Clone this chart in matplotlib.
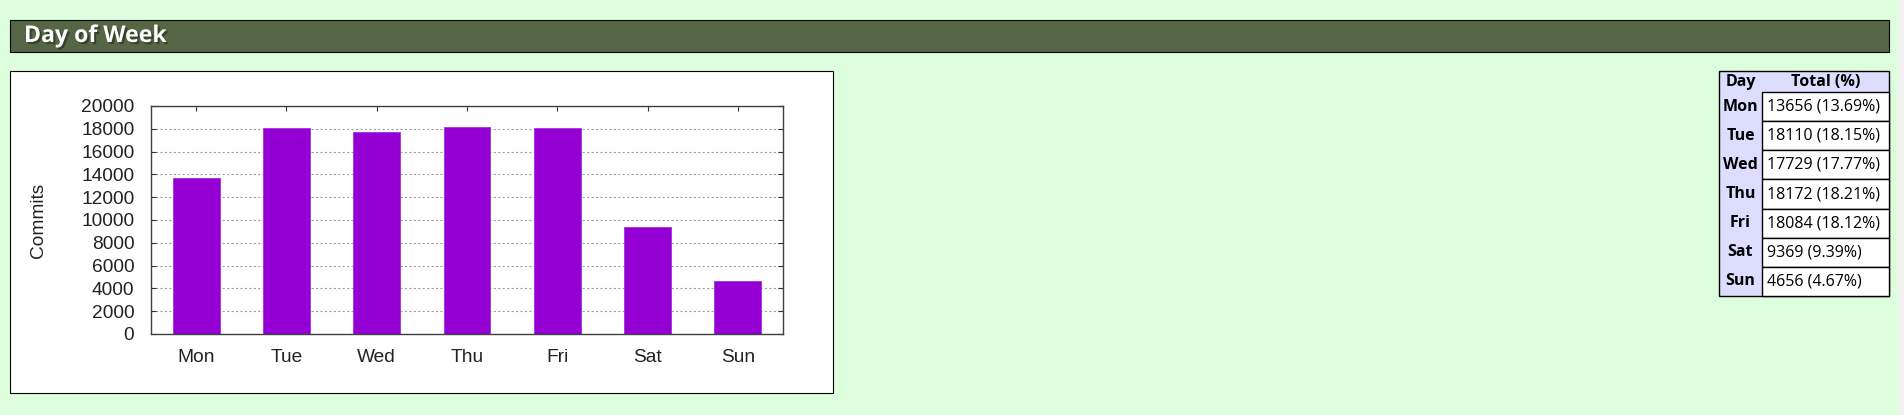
import matplotlib.pyplot as plt
from matplotlib import font_manager
from matplotlib import patheffects
from matplotlib.patches import Rectangle

# Данные
days = ["Mon", "Tue", "Wed", "Thu", "Fri", "Sat", "Sun"]
commits = [13656, 18110, 17729, 18172, 18084, 9369, 4656]
percents = [13.69, 18.15, 17.77, 18.21, 18.12, 9.39, 4.67]
y_ticks = [0, 2000, 4000, 6000, 8000, 10000, 12000, 14000, 16000, 18000, 20000]

W, H = 1904, 415


def pick_ui_font():
    # Ищем шрифт, у которого есть жирное начертание
    bold = {f.name for f in font_manager.fontManager.ttflist if f.weight in (700, "bold")}
    for name in ["Open Sans", "Noto Sans", "Lato", "Roboto", "DejaVu Sans"]:
        if name in bold:
            return name
    return "DejaVu Sans"


UI_FONT = pick_ui_font()


def fx(x):
    return x / W


def fy(y):
    return 1 - y / H


def add_rect(fig, x0, y0, x1, y1, **kw):
    fig.patches.append(
        Rectangle(
            (fx(x0), fy(y1)),
            fx(x1) - fx(x0),
            fy(y0) - fy(y1),
            transform=fig.transFigure,
            figure=fig,
            zorder=-5,
            **kw,
        )
    )


fig = plt.figure(figsize=(W / 100, H / 100), dpi=100)
fig.patch.set_facecolor("#ddffdd")

# Полоса прокрутки справа
add_rect(fig, 1898, 0, W, H, facecolor="#f0f0f0", edgecolor="none")

# Заголовок
add_rect(fig, 10, 20, 1889, 52, facecolor="#556644", edgecolor="black", linewidth=0.8)
fig.text(
    fx(24), fy(36), "Day of Week",
    color="white", fontsize=16.6, fontweight="bold", family=UI_FONT,
    ha="left", va="center",
    path_effects=[
        patheffects.withSimplePatchShadow(offset=(1.5, -1.5), shadow_rgbFace="black", alpha=0.35),
    ],
)

# Рамка картинки
add_rect(fig, 10, 71, 833, 393, facecolor="white", edgecolor="black", linewidth=0.8)

# График
ax = fig.add_axes([fx(151), fy(334), fx(783) - fx(151), fy(106) - fy(334)])
ax.set_facecolor("white")
ax.bar(range(len(days)), commits, width=0.52, color="#9400d3", edgecolor="#a030e0", linewidth=0.6, zorder=3)
ax.set_xlim(-0.5, len(days) - 0.5)
ax.set_ylim(0, 20000)
ax.set_yticks(y_ticks)
ax.set_xticks(range(len(days)))
ax.set_xticklabels(days)
ax.yaxis.grid(True, linestyle=(0, (2, 2)), color="#a0a0a0", linewidth=0.8, zorder=0)
ax.tick_params(
    axis="both", direction="in", length=3.5, width=0.8,
    top=True, right=True, labelsize=13.8, labelcolor="#222222", color="#333333",
)
ax.tick_params(axis="y", pad=12)
ax.tick_params(axis="x", pad=11)
for label in ax.get_xticklabels() + ax.get_yticklabels():
    label.set_family("Liberation Sans")
for spine in ax.spines.values():
    spine.set_color("#404040")
    spine.set_linewidth(1.0)
    spine.set_zorder(4)

fig.text(
    fx(38), fy(220), "Commits",
    rotation=90, fontsize=13.8, family="Liberation Sans", color="#222222",
    ha="center", va="center",
)

# Таблица
tx0, tdiv, tx1 = 1719, 1762, 1889
ty0, thead = 71, 92
row_h = (296 - 92) / len(days)

add_rect(fig, tx0, ty0, tx1, thead + row_h * len(days), facecolor="#ddddff", edgecolor="black", linewidth=1.0)
fig.text(fx((tx0 + tdiv) / 2), fy((ty0 + thead) / 2), "Day",
         fontsize=11.5, fontweight="bold", family=UI_FONT, ha="center", va="center")
fig.text(fx((tdiv + tx1) / 2), fy((ty0 + thead) / 2), "Total (%)",
         fontsize=11.5, fontweight="bold", family=UI_FONT, ha="center", va="center")

for i, (day, count, pct) in enumerate(zip(days, commits, percents)):
    top = thead + i * row_h
    bottom = top + row_h
    add_rect(fig, tdiv, top, tx1, bottom, facecolor="white", edgecolor="black", linewidth=1.0)
    yc = fy((top + bottom) / 2)
    fig.text(fx((tx0 + tdiv) / 2), yc, day,
             fontsize=11.5, fontweight="bold", family=UI_FONT, ha="center", va="center")
    fig.text(fx(tdiv + 5), yc, f"{count} ({pct:.2f}%)",
             fontsize=11.5, family=UI_FONT, ha="left", va="center")

plt.savefig("out.png", dpi=100, facecolor=fig.get_facecolor())
plt.close()
